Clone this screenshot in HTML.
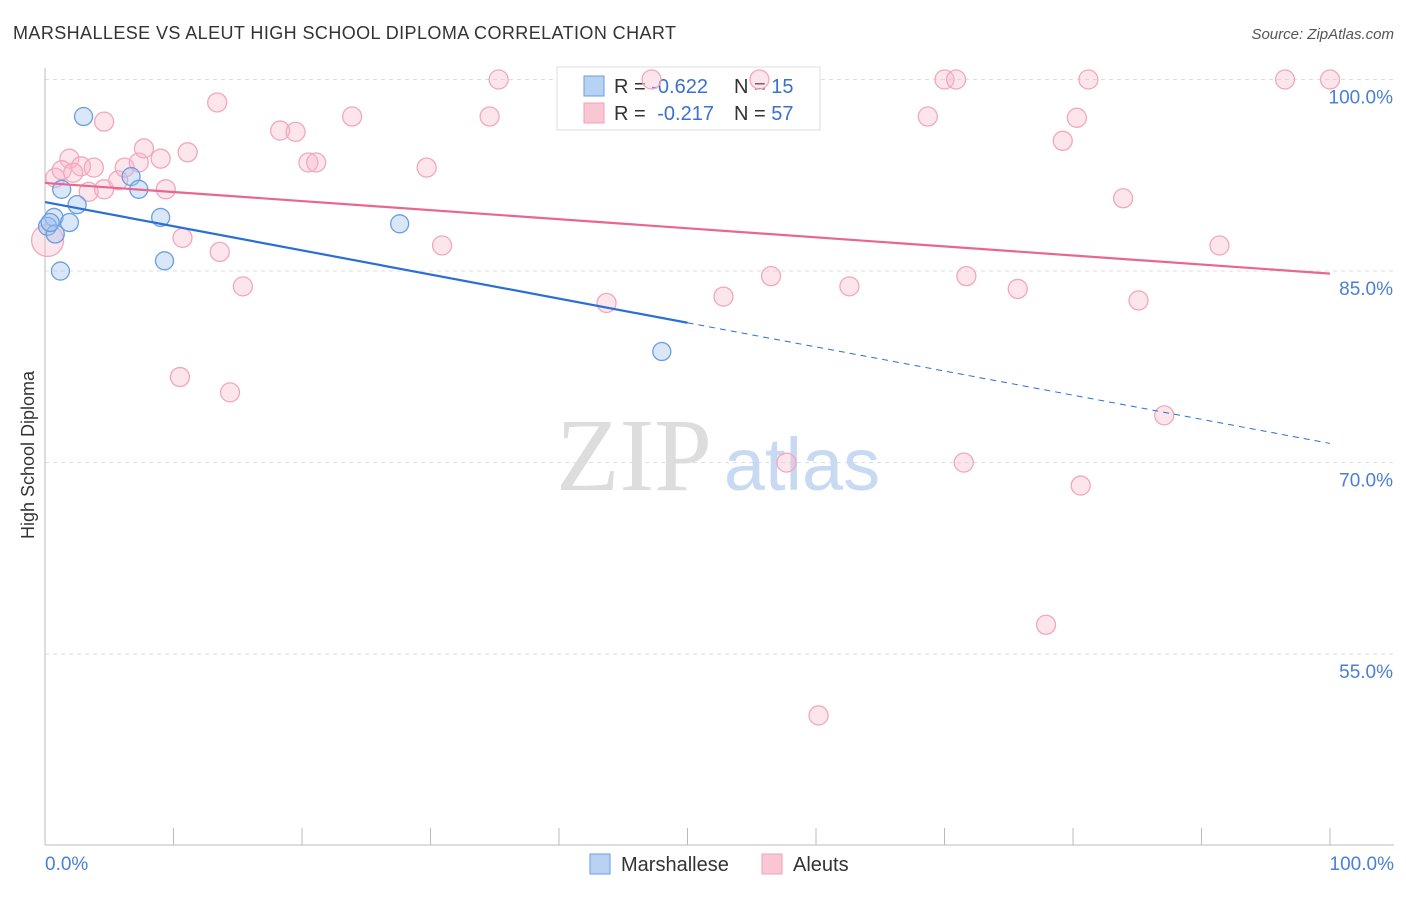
<!DOCTYPE html>
<html><head><meta charset="utf-8"><style>
body{margin:0;background:#fff;font-family:"Liberation Sans",sans-serif;}
</style></head><body>
<svg width="1406" height="892" xmlns="http://www.w3.org/2000/svg" font-family="Liberation Sans, sans-serif">
<text x="13" y="39" font-size="18" fill="#333" textLength="663">MARSHALLESE VS ALEUT HIGH SCHOOL DIPLOMA CORRELATION CHART</text>
<text x="1394" y="39" font-size="15" fill="#555" font-style="italic" text-anchor="end">Source: ZipAtlas.com</text>
<g id="grid"></g>
<text x="634" y="490" font-size="104" fill="#ddd" font-family="Liberation Serif, serif" text-anchor="middle">ZIP</text>
<text x="802" y="490" font-size="74" fill="#c8daf2" text-anchor="middle">atlas</text>
<line x1="45" y1="68" x2="45" y2="845" stroke="#bbb"/>
<line x1="45" y1="845" x2="1394" y2="845" stroke="#bbb"/>
<text transform="translate(34,455) rotate(-90)" font-size="18" fill="#333" text-anchor="middle">High School Diploma</text>
<text x="45" y="870" font-size="19" fill="#4a7fd4">0.0%</text>
<text x="1394" y="870" font-size="19" fill="#4a7fd4" text-anchor="end">100.0%</text>
<g id="ticks"></g>
<g>
<rect x="557" y="67" width="263" height="63" fill="#fff" stroke="#ddd"/>
<rect x="584" y="76" width="20" height="20" fill="#b8d2f4" stroke="#6a9ee0"/>
<rect x="584" y="103" width="20" height="20" fill="#f9c6d4" stroke="#f0a0b8"/>
<text x="614" y="93" font-size="20" fill="#333">R = <tspan fill="#3a70d0">-0.622</tspan><tspan x="734">N = </tspan><tspan fill="#3a70d0">15</tspan></text>
<text x="614" y="120" font-size="20" fill="#333">R = <tspan fill="#3a70d0" dx="6">-0.217</tspan><tspan x="734">N = </tspan><tspan fill="#3a70d0">57</tspan></text>
</g>
<g id="pts"></g>
<g id="trends"></g>
<g>
<rect x="590" y="854" width="20" height="20" fill="#b8d2f4" stroke="#6a9ee0"/>
<text x="621" y="871" font-size="20" fill="#333">Marshallese</text>
<rect x="762" y="854" width="20" height="20" fill="#f9c6d4" stroke="#f0a0b8"/>
<text x="793" y="871" font-size="20" fill="#333">Aleuts</text>
</g>
</svg>
<script>
const yTicks=[100,85,70,55];
const yTickLabels=["100.0%","85.0%","70.0%","55.0%"];
const blueX=[3.0,1.3,2.5,0.7,0.2,1.9,0.8,1.2,6.7,7.3,9.0,9.3,27.6,48.0,0.4];
const blueY=[97.1,91.4,90.2,89.2,88.5,88.8,87.9,85.0,92.4,91.4,89.2,85.8,88.7,78.7,88.8];
const pinkX=[0.8,1.9,2.8,3.8,1.3,2.2,3.4,4.6,5.7,6.2,7.3,7.7,9.0,9.4,11.1,4.6,13.4,10.7,13.6,15.4,10.5,14.4,18.3,19.5,20.5,21.1,23.9,29.7,30.9,34.6,35.3,43.7,47.2,52.8,55.6,56.5,57.7,60.2,62.6,68.7,70.0,70.9,71.7,71.5,75.7,77.9,79.2,80.3,80.6,81.2,83.9,85.1,87.1,91.4,96.5,100,0.2];
const pinkY=[92.3,93.8,93.2,93.1,92.9,92.7,91.2,91.4,92.1,93.1,93.5,94.6,93.8,91.4,94.3,96.7,98.2,87.6,86.5,83.8,76.7,75.5,96.0,95.9,93.5,93.5,97.1,93.1,87.0,97.1,100,82.5,100,83.0,100,84.6,70.0,50.2,83.8,97.1,100,100,84.6,70.0,83.6,57.3,95.2,97.0,68.2,100,90.7,82.7,73.7,87.0,100,100,87.4];
const blueTrend=[90.4,71.5];
const pinkTrend=[91.9,84.8];
const NS="http://www.w3.org/2000/svg";
const sx=v=>45+v*12.85;
const sy=v=>79.5+(100-v)*12.77;
function mk(t,a,p){const e=document.createElementNS(NS,t);for(const k in a)e.setAttribute(k,a[k]);p.appendChild(e);return e;}
const grid=document.getElementById('grid'),ticks=document.getElementById('ticks');
yTicks.forEach((v,i)=>{
 const l=mk('line',{x1:45,x2:1394,y1:sy(v),y2:sy(v),stroke:'#ddd','stroke-dasharray':'4,4'},grid);
 
 
 const t=mk('text',{x:1393,y:sy(v)+24,'font-size':19,fill:'#4a7fd4','text-anchor':'end'},ticks);
 t.textContent=yTickLabels[i];
 
 
});
for(let k=1;k<=10;k++){
 const l=mk('line',{x1:45+128.5*k,x2:45+128.5*k,y1:828,y2:845,stroke:'#bbb'},grid);
 
 
}
const pts=document.getElementById('pts');
pinkX.forEach((x,i)=>{
 const big=i===pinkX.length-1;
 const c=mk('circle',{cx:sx(x),cy:sy(pinkY[i]),r:big?16:9.5,fill:'rgba(248,180,200,0.35)',stroke:'#f0a8be','stroke-width':1.3},pts);
 
 
});
blueX.forEach((x,i)=>{
 const c=mk('circle',{cx:sx(x),cy:sy(blueY[i]),r:9,fill:'rgba(160,195,240,0.4)',stroke:'#6a9ee0','stroke-width':1.3},pts);
 
 
});
const tr=document.getElementById('trends');
const bAt=x=>blueTrend[0]+(blueTrend[1]-blueTrend[0])*x/100;
let l1=mk('line',{x1:sx(0),y1:sy(bAt(0)),x2:sx(50),y2:sy(bAt(50)),stroke:'#2a6fd6','stroke-width':2.2},tr);


let l2=mk('line',{x1:sx(50),y1:sy(bAt(50)),x2:sx(100),y2:sy(bAt(100)),stroke:'#2a6fd6','stroke-width':1,'stroke-dasharray':'6,5'},tr);


let l3=mk('line',{x1:sx(0),y1:sy(pinkTrend[0]),x2:sx(100),y2:sy(pinkTrend[1]),stroke:'#e8678f','stroke-width':2.2},tr);


</script>
</body></html>
